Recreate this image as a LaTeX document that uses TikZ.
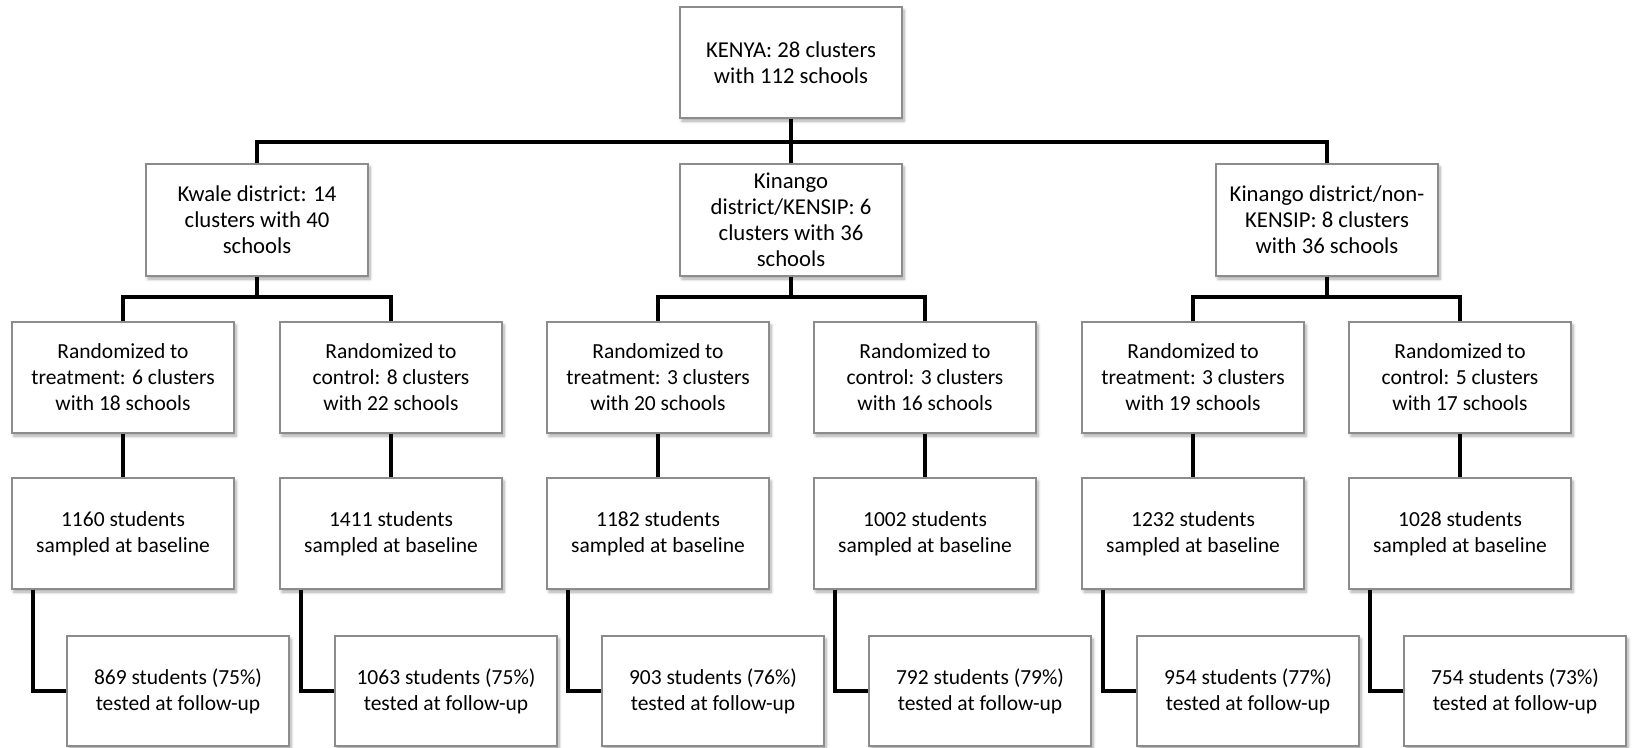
\documentclass[tikz,border=0pt]{standalone}
\usepackage{fontspec}
\setmainfont{Carlito}
\usetikzlibrary{shadows.blur}
\begin{document}
\begin{tikzpicture}[x=1pt,y=-1pt,
  box/.style={draw=black!45,line width=1.2pt,fill=white,minimum width=222pt,minimum height=111pt,
    inner sep=0pt,align=center,font=\fontsize{21.5}{26}\selectfont,
    blur shadow={shadow xshift=2pt,shadow yshift=-3pt,shadow blur radius=3pt,shadow blur steps=6,shadow opacity=35}},
  bigbox/.style={box,font=\fontsize{22.7}{26}\selectfont},
  conn/.style={line width=4pt,draw=black,line join=miter,line cap=butt}]
\useasboundingbox (0,0) rectangle (1633,747);
% level 1
\node[bigbox] (k) at (791,62.5) {KENYA: 28 clusters\\with 112 schools};
% level 2
\node[bigbox,minimum height=112pt] (d1) at (257,220) {Kwale district: 14\\clusters with 40\\schools};
\node[bigbox,minimum height=112pt] (d2) at (791,220) {Kinango\\district/KENSIP: 6\\clusters with 36\\schools};
\node[bigbox,minimum height=112pt] (d3) at (1327,220) {Kinango district/non-\\KENSIP: 8 clusters\\with 36 schools};
% level 3
\node[box] (r1) at (123,377.5) {Randomized to\\treatment: 6 clusters\\with 18 schools};
\node[box] (r2) at (391,377.5) {Randomized to\\control: 8 clusters\\with 22 schools};
\node[box] (r3) at (658,377.5) {Randomized to\\treatment: 3 clusters\\with 20 schools};
\node[box] (r4) at (925,377.5) {Randomized to\\control: 3 clusters\\with 16 schools};
\node[box] (r5) at (1193,377.5) {Randomized to\\treatment: 3 clusters\\with 19 schools};
\node[box] (r6) at (1460,377.5) {Randomized to\\control: 5 clusters\\with 17 schools};
% level 4
\node[box] (s1) at (123,533.5) {1160 students\\sampled at baseline};
\node[box] (s2) at (391,533.5) {1411 students\\sampled at baseline};
\node[box] (s3) at (658,533.5) {1182 students\\sampled at baseline};
\node[box] (s4) at (925,533.5) {1002 students\\sampled at baseline};
\node[box] (s5) at (1193,533.5) {1232 students\\sampled at baseline};
\node[box] (s6) at (1460,533.5) {1028 students\\sampled at baseline};
% level 5
\node[box,minimum height=110pt] (f1) at (178,691) {869 students (75\%)\\tested at follow-up};
\node[box,minimum height=110pt] (f2) at (446,691) {1063 students (75\%)\\tested at follow-up};
\node[box,minimum height=110pt] (f3) at (713,691) {903 students (76\%)\\tested at follow-up};
\node[box,minimum height=110pt] (f4) at (980,691) {792 students (79\%)\\tested at follow-up};
\node[box,minimum height=110pt] (f5) at (1248,691) {954 students (77\%)\\tested at follow-up};
\node[box,minimum height=110pt] (f6) at (1515,691) {754 students (73\%)\\tested at follow-up};
% connectors
\draw[conn] (k.south) -- (k.south |- 0,142);
\draw[conn] (d1.north) -- (d1.north |- 0,142) -| (d3.north);
\draw[conn] (d2.north) -- (d2.north |- 0,142);
\foreach \d/\a/\b in {d1/r1/r2,d2/r3/r4,d3/r5/r6}{
  \draw[conn] (\d.south) -- (\d.south |- 0,297);
  \draw[conn] (\a.north) -- (\a.north |- 0,297) -| (\b.north);
}
\foreach \i in {1,...,6}{
  \draw[conn] (r\i.south) -- (s\i.north);
  \draw[conn] ([xshift=-90pt]s\i.south) |- (f\i.west);
}
\end{tikzpicture}
\end{document}
